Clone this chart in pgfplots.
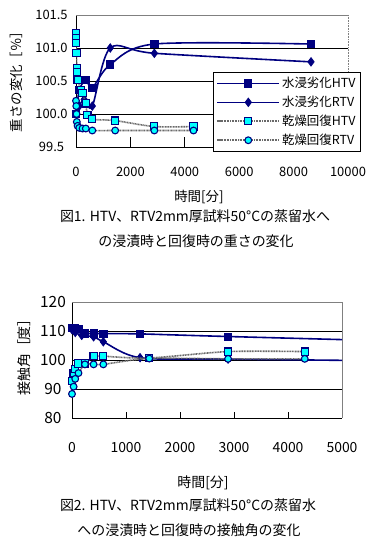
\documentclass[border=0pt]{standalone}
\usepackage{fontspec}
\setmainfont{Noto Sans CJK JP}
\usepackage{pgfplots}
\pgfplotsset{compat=1.18}
\definecolor{navy}{RGB}{0,0,128}
\definecolor{cyanm}{RGB}{0,255,255}
\definecolor{bordergray}{RGB}{128,128,128}
\definecolor{dotgray}{RGB}{105,105,105}

\pgfplotsset{
 basestyle/.style={
  scale only axis,
  axis x line*=bottom, axis y line*=left,
  axis line style={black, line width=0.8bp, -},
  tick align=inside,
  ymajorgrids, grid style={black, line width=0.8bp},
  clip mode=individual,
  /pgf/number format/assume math mode=true,
  /pgf/number format/1000 sep={},
  scaled ticks=false,
  x tick style={black, line width=0.8bp},
  y tick style={draw=none},
  xticklabel style={anchor=center},
  yticklabel style={anchor=center},
 },
 immH/.style={navy, line width=1.6bp, smooth, mark=square*, mark size=3.6bp,
   mark options={fill=navy, draw=navy, solid, line width=0.8bp}},
 immR/.style={navy, line width=1.6bp, smooth, mark=diamond*, mark size=4.2bp,
   mark options={fill=navy, draw=navy, solid, line width=0.8bp}},
 dryH/.style={dotgray, line width=1.6bp, smooth, dash pattern=on 1bp off 0.6bp, mark=square*, mark size=3.6bp,
   mark options={fill=cyanm, draw=navy, solid, line width=1.1bp}},
 dryR/.style={dotgray, line width=1.6bp, smooth, dash pattern=on 1bp off 0.6bp, mark=*, mark size=3.4bp,
   mark options={fill=cyanm, draw=navy, solid, line width=1.1bp}},
}

\begin{document}
\begin{tikzpicture}
\useasboundingbox (0,0) rectangle (379bp,545bp);
\fill[white] (0,0) rectangle (379bp,545bp);

% ---------------- Chart 1 ----------------
\begin{axis}[basestyle,
  at={(76bp,398bp)}, anchor=south west, width=272bp, height=132bp,
  xmin=0, xmax=10000, ymin=99.5, ymax=101.5,
  xtick={0,2000,...,10000}, ytick={99.5,100,100.5,101,101.5},
  yticklabel style={/pgf/number format/fixed, /pgf/number format/fixed zerofill, /pgf/number format/precision=1},
  ticklabel style={font=\fontsize{13}{15}\selectfont},
  xticklabel style={yshift=-25bp},
  yticklabel style={xshift=-24.5bp},
  major tick length=10bp,
  legend style={at={(0.504,0.568)}, anchor=north west, draw=black, line width=0.8bp, fill=white,
    font=\fontsize{12.5}{14}\selectfont, legend cell align=left, inner xsep=3bp, inner ysep=3bp,
    row sep=3bp, /tikz/every even column/.append style={column sep=2bp}},
  legend image code/.code={\draw[mark repeat=2,mark phase=2] plot coordinates {(0bp,0bp) (31bp,0bp) (62bp,0bp)};},
]
\draw[bordergray, line width=0.8bp] (rel axis cs:0,1) -- (rel axis cs:1,1);
\draw[bordergray, line width=0.6bp, densely dotted] (rel axis cs:1,1) -- (rel axis cs:1,0);
\addplot[immH] coordinates {(0,100.0) (120,100.36) (360,100.52) (600,100.40) (1260,100.75) (2880,101.06) (8640,101.06)};
\addlegendentry{水浸劣化HTV}
\addplot[immR] coordinates {(0,100.0) (120,100.12) (300,100.22) (600,100.12) (1260,101.0) (2880,100.92) (8640,100.79)};
\addlegendentry{水浸劣化RTV}
\addplot[dryH] coordinates {(0,101.22) (5,101.15) (10,101.08) (20,100.92) (30,100.70) (45,100.64) (60,100.52) (180,100.36) (240,100.32) (360,100.16) (420,99.99) (600,99.92) (1440,99.90) (2880,99.81) (4320,99.81)};
\addlegendentry{乾燥回復HTV}
\addplot[dryR] coordinates {(0,100.20) (10,100.12) (20,100.0) (30,99.88) (60,99.82) (120,99.79) (240,99.78) (360,99.78) (600,99.75) (1440,99.75) (2880,99.75) (4320,99.75)};
\addlegendentry{乾燥回復RTV}
\end{axis}

\node[rotate=90, font=\fontsize{13.5}{15}\selectfont] at (16.5bp,466.5bp) {重さの変化［％］};
\node[font=\fontsize{13.5}{15}\selectfont] at (199bp,348bp) {時間[分]};
\node[font=\fontsize{14}{16}\selectfont] at (195bp,329bp) {図1. HTV、RTV2mm厚試料50°Cの蒸留水へ};
\node[font=\fontsize{14}{16}\selectfont] at (196bp,304bp) {の浸漬時と回復時の重さの変化};

% ---------------- Chart 2 ----------------
\begin{axis}[basestyle,
  at={(72bp,127bp)}, anchor=south west, width=270bp, height=116bp,
  xmin=0, xmax=5000, ymin=80, ymax=120,
  xtick={0,1000,...,5000}, ytick={80,90,...,120},
  xticklabel style={font=\fontsize{14}{16}\selectfont, yshift=-30bp},
  yticklabel style={font=\fontsize{15.5}{17}\selectfont, xshift=-19bp},
  major tick length=6bp,
]
\draw[bordergray, line width=0.8bp] (rel axis cs:0,1) -- (rel axis cs:1,1);
\draw[bordergray, line width=0.8bp] (rel axis cs:1,1) -- (rel axis cs:1,0);
\addplot[immH, mark indices={1,2,3,4,5,6,7,8}] coordinates {(0,111.0) (60,111.0) (120,110.8) (240,109.2) (400,109.2) (580,109.1) (1260,109.0) (2890,108.1) (8640,105.2)};
\addplot[immR, mark indices={1,2,3,4,5,6,7}] coordinates {(0,110.5) (60,109.5) (180,108.5) (400,108.0) (580,106.3) (1260,100.8) (2890,100.3) (8640,99.2)};
\addplot[dryH] coordinates {(0,92.8) (30,95.5) (60,97.0) (120,98.8) (240,98.8) (400,101.3) (580,101.3) (1430,100.7) (2890,102.9) (4310,102.9)};
\addplot[dryR] coordinates {(0,88.3) (30,90.8) (60,93.5) (120,95.5) (240,98.5) (400,98.5) (580,98.5) (1430,100.5) (2890,100.4) (4310,100.4)};
\end{axis}

\node[rotate=90, font=\fontsize{14}{16}\selectfont] at (24bp,191bp) {接触角［度］};
\node[font=\fontsize{14}{16}\selectfont] at (203bp,62bp) {時間[分]};
\node[font=\fontsize{14}{16}\selectfont] at (188bp,40bp) {図2. HTV、RTV2mm厚試料50°Cの蒸留水};
\node[font=\fontsize{14}{16}\selectfont] at (189bp,15bp) {への浸漬時と回復時の接触角の変化};
\end{tikzpicture}
\end{document}
